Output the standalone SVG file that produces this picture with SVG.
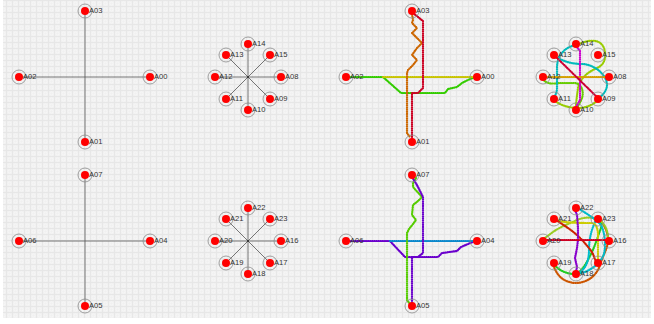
<svg xmlns="http://www.w3.org/2000/svg" width="654" height="324" viewBox="0 0 654 324">
<style>
.ring{fill:none;stroke:#8a8a8a;stroke-width:0.8}
.dot{fill:#ff0000}
.lbl{font-family:"Liberation Sans",Arial,sans-serif;font-size:7.6px;fill:#333}
.ln{stroke:#555;stroke-width:0.8;fill:none}
.rt{fill:none;stroke-width:2.2;stroke-dasharray:0.5 1.6;stroke-linecap:round;stroke-linejoin:round}
</style>
<defs>
<pattern id="bg" width="6" height="6" patternUnits="userSpaceOnUse">
<rect width="6" height="6" fill="#f0f0f0"/>
<path d="M0,0.5H6M0.5,0V6" stroke="#e7e7e7" stroke-width="1"/>
<circle cx="3.5" cy="3.5" r="1.6" fill="none" stroke="#f9f9f9" stroke-width="0.8"/>
</pattern>
</defs>
<rect width="654" height="324" fill="#ffffff"/>
<rect x="3" y="0" width="648" height="318" fill="url(#bg)"/>

<g id="connectors">
<path class="ln" d="M85,11V142M19,77H150"/>
<path class="ln" d="M85,175V306M19,241H150"/>
<path class="ln" d="M248,44V110M215,77H281M226,55L270,99M270,55L226,99"/>
<circle cx="248" cy="77" r="1.1" fill="#333"/>
<path class="ln" d="M248,208V274M215,241H281M226,219L270,263M270,219L226,263"/>
<circle cx="248" cy="241" r="1.1" fill="#333"/>

<path class="rt" stroke="#33cc00" d="M349,77L383,77L401,93L445,93L448,89L457,87L462,83L468,80L475,77"/>
<path class="rt" stroke="#c8c400" d="M383,77L475,77"/>
<path class="rt" stroke="#cc6600" d="M412,14L413,20L412,23L417,28L412,33L422,43L417,48L412,55L417,60L413,65L408,70L407,73L407,133L410,137"/>
<path class="rt" stroke="#cc0022" d="M413,13L423,21L423,88L418,93L412,93L412,139"/>

<path class="rt" stroke="#6a00cc" d="M349,241L390,241L405,257L438,257L442,253L457,251L461,247L468,244L475,241"/>
<path class="rt" stroke="#0a88cc" d="M390,241L474,241"/>
<path class="rt" stroke="#55cc00" d="M416,178L413,183L413,187L422,197L418,201L413,205L412,215L416,220L413,224L409,229L407,233L407,300L410,304"/>
<path class="rt" stroke="#6a00cc" d="M412,177L417,185L423,197L423,253L418,257L412,257L412,303"/>

<path class="rt" stroke="#99cc00" d="M553,99C560,106 570,108 580,108C590,107 595,103 599,99"/>
<path class="rt" stroke="#99cc00" d="M579,44C588,40 600,38 604,48C607,58 604,65 597,68C588,72 580,78 578,88C577,96 576,102 576,107"/>
<path class="rt" stroke="#66cc00" d="M543,79C546,84 552,84 560,83L575,83C582,84 584,92 582,98C580,103 578,106 577,108"/>
<path class="rt" stroke="#00bbbb" d="M576,45C565,47 557,55 557,68L557,88C557,93 555,96 553,98"/>
<path class="rt" stroke="#00bbbb" d="M556,57C565,62 572,64 583,64C595,65 607,75 607,85C607,90 603,95 599,98"/>
<path class="rt" stroke="#cc00cc" d="M576,46L580,51L580,100L576,107"/>
<path class="rt" stroke="#d4a000" d="M546,77L606,77"/>
<path class="rt" stroke="#cc0033" d="M555,56L598,98"/>

<path class="rt" stroke="#cc5500" d="M553,264C556,274 562,282 575,283C588,283 597,275 600,265C603,255 608,248 608,240C608,232 604,224 599,219"/>
<path class="rt" stroke="#22cc22" d="M554,264C558,270 566,274 575,274C582,272 587,262 591,254C595,246 598,236 601,228C602,224 601,221 599,219"/>
<path class="rt" stroke="#99cc22" d="M545,238L553,232C560,227 568,224 575,221C582,217 594,216 601,221C606,226 608,232 608,238"/>
<path class="rt" stroke="#00bbcc" d="M578,208C585,213 595,218 601,225C605,233 606,245 604,254C601,262 594,268 585,272L577,274"/>
<path class="rt" stroke="#00bbcc" d="M596,220C592,228 589,238 589,250C589,262 585,270 578,273"/>
<path class="rt" stroke="#cccc00" d="M556,220C565,223 580,223 592,223C597,224 598,230 598,236L598,262"/>
<path class="rt" stroke="#cc2200" d="M556,220C565,226 575,232 583,241C588,247 593,252 594,257C595,260 597,262 598,263"/>
<path class="rt" stroke="#8800cc" d="M575,210L577,215L578,228L578,240L577,248L575,258L577,267L576,272"/>
<path class="rt" stroke="#cc0022" d="M545,240L607,240"/>
</g>

<g id="p1-A00"><circle class="ring" cx="150" cy="77" r="7"/><circle class="dot" cx="150" cy="77" r="4"/><text class="lbl" x="154" y="78.5">A00</text></g>
<g id="p1-A01"><circle class="ring" cx="85" cy="142" r="7"/><circle class="dot" cx="85" cy="142" r="4"/><text class="lbl" x="89" y="143.5">A01</text></g>
<g id="p1-A02"><circle class="ring" cx="19" cy="77" r="7"/><circle class="dot" cx="19" cy="77" r="4"/><text class="lbl" x="23" y="78.5">A02</text></g>
<g id="p1-A03"><circle class="ring" cx="85" cy="11" r="7"/><circle class="dot" cx="85" cy="11" r="4"/><text class="lbl" x="89" y="12.5">A03</text></g>

<g id="p2-A08"><circle class="ring" cx="281" cy="77" r="7"/><circle class="dot" cx="281" cy="77" r="4"/><text class="lbl" x="285" y="78.5">A08</text></g>
<g id="p2-A09"><circle class="ring" cx="270" cy="99" r="7"/><circle class="dot" cx="270" cy="99" r="4"/><text class="lbl" x="274" y="100.5">A09</text></g>
<g id="p2-A10"><circle class="ring" cx="248" cy="110" r="7"/><circle class="dot" cx="248" cy="110" r="4"/><text class="lbl" x="252" y="111.5">A10</text></g>
<g id="p2-A11"><circle class="ring" cx="226" cy="99" r="7"/><circle class="dot" cx="226" cy="99" r="4"/><text class="lbl" x="230" y="100.5">A11</text></g>
<g id="p2-A12"><circle class="ring" cx="215" cy="77" r="7"/><circle class="dot" cx="215" cy="77" r="4"/><text class="lbl" x="219" y="78.5">A12</text></g>
<g id="p2-A13"><circle class="ring" cx="226" cy="55" r="7"/><circle class="dot" cx="226" cy="55" r="4"/><text class="lbl" x="230" y="56.5">A13</text></g>
<g id="p2-A14"><circle class="ring" cx="248" cy="44" r="7"/><circle class="dot" cx="248" cy="44" r="4"/><text class="lbl" x="252" y="45.5">A14</text></g>
<g id="p2-A15"><circle class="ring" cx="270" cy="55" r="7"/><circle class="dot" cx="270" cy="55" r="4"/><text class="lbl" x="274" y="56.5">A15</text></g>

<g id="p3-A00"><circle class="ring" cx="477" cy="77" r="7"/><circle class="dot" cx="477" cy="77" r="4"/><text class="lbl" x="481" y="78.5">A00</text></g>
<g id="p3-A01"><circle class="ring" cx="412" cy="142" r="7"/><circle class="dot" cx="412" cy="142" r="4"/><text class="lbl" x="416" y="143.5">A01</text></g>
<g id="p3-A02"><circle class="ring" cx="346" cy="77" r="7"/><circle class="dot" cx="346" cy="77" r="4"/><text class="lbl" x="350" y="78.5">A02</text></g>
<g id="p3-A03"><circle class="ring" cx="412" cy="11" r="7"/><circle class="dot" cx="412" cy="11" r="4"/><text class="lbl" x="416" y="12.5">A03</text></g>

<g id="p4-A08"><circle class="ring" cx="609" cy="77" r="7"/><circle class="dot" cx="609" cy="77" r="4"/><text class="lbl" x="613" y="78.5">A08</text></g>
<g id="p4-A09"><circle class="ring" cx="598" cy="99" r="7"/><circle class="dot" cx="598" cy="99" r="4"/><text class="lbl" x="602" y="100.5">A09</text></g>
<g id="p4-A10"><circle class="ring" cx="576" cy="110" r="7"/><circle class="dot" cx="576" cy="110" r="4"/><text class="lbl" x="580" y="111.5">A10</text></g>
<g id="p4-A11"><circle class="ring" cx="554" cy="99" r="7"/><circle class="dot" cx="554" cy="99" r="4"/><text class="lbl" x="558" y="100.5">A11</text></g>
<g id="p4-A12"><circle class="ring" cx="543" cy="77" r="7"/><circle class="dot" cx="543" cy="77" r="4"/><text class="lbl" x="547" y="78.5">A12</text></g>
<g id="p4-A13"><circle class="ring" cx="554" cy="55" r="7"/><circle class="dot" cx="554" cy="55" r="4"/><text class="lbl" x="558" y="56.5">A13</text></g>
<g id="p4-A14"><circle class="ring" cx="576" cy="44" r="7"/><circle class="dot" cx="576" cy="44" r="4"/><text class="lbl" x="580" y="45.5">A14</text></g>
<g id="p4-A15"><circle class="ring" cx="598" cy="55" r="7"/><circle class="dot" cx="598" cy="55" r="4"/><text class="lbl" x="602" y="56.5">A15</text></g>

<g id="p5-A04"><circle class="ring" cx="150" cy="241" r="7"/><circle class="dot" cx="150" cy="241" r="4"/><text class="lbl" x="154" y="242.5">A04</text></g>
<g id="p5-A05"><circle class="ring" cx="85" cy="306" r="7"/><circle class="dot" cx="85" cy="306" r="4"/><text class="lbl" x="89" y="307.5">A05</text></g>
<g id="p5-A06"><circle class="ring" cx="19" cy="241" r="7"/><circle class="dot" cx="19" cy="241" r="4"/><text class="lbl" x="23" y="242.5">A06</text></g>
<g id="p5-A07"><circle class="ring" cx="85" cy="175" r="7"/><circle class="dot" cx="85" cy="175" r="4"/><text class="lbl" x="89" y="176.5">A07</text></g>

<g id="p6-A16"><circle class="ring" cx="281" cy="241" r="7"/><circle class="dot" cx="281" cy="241" r="4"/><text class="lbl" x="285" y="242.5">A16</text></g>
<g id="p6-A17"><circle class="ring" cx="270" cy="263" r="7"/><circle class="dot" cx="270" cy="263" r="4"/><text class="lbl" x="274" y="264.5">A17</text></g>
<g id="p6-A18"><circle class="ring" cx="248" cy="274" r="7"/><circle class="dot" cx="248" cy="274" r="4"/><text class="lbl" x="252" y="275.5">A18</text></g>
<g id="p6-A19"><circle class="ring" cx="226" cy="263" r="7"/><circle class="dot" cx="226" cy="263" r="4"/><text class="lbl" x="230" y="264.5">A19</text></g>
<g id="p6-A20"><circle class="ring" cx="215" cy="241" r="7"/><circle class="dot" cx="215" cy="241" r="4"/><text class="lbl" x="219" y="242.5">A20</text></g>
<g id="p6-A21"><circle class="ring" cx="226" cy="219" r="7"/><circle class="dot" cx="226" cy="219" r="4"/><text class="lbl" x="230" y="220.5">A21</text></g>
<g id="p6-A22"><circle class="ring" cx="248" cy="208" r="7"/><circle class="dot" cx="248" cy="208" r="4"/><text class="lbl" x="252" y="209.5">A22</text></g>
<g id="p6-A23"><circle class="ring" cx="270" cy="219" r="7"/><circle class="dot" cx="270" cy="219" r="4"/><text class="lbl" x="274" y="220.5">A23</text></g>

<g id="p7-A04"><circle class="ring" cx="477" cy="241" r="7"/><circle class="dot" cx="477" cy="241" r="4"/><text class="lbl" x="481" y="242.5">A04</text></g>
<g id="p7-A05"><circle class="ring" cx="412" cy="306" r="7"/><circle class="dot" cx="412" cy="306" r="4"/><text class="lbl" x="416" y="307.5">A05</text></g>
<g id="p7-A06"><circle class="ring" cx="346" cy="241" r="7"/><circle class="dot" cx="346" cy="241" r="4"/><text class="lbl" x="350" y="242.5">A06</text></g>
<g id="p7-A07"><circle class="ring" cx="412" cy="175" r="7"/><circle class="dot" cx="412" cy="175" r="4"/><text class="lbl" x="416" y="176.5">A07</text></g>

<g id="p8-A16"><circle class="ring" cx="609" cy="241" r="7"/><circle class="dot" cx="609" cy="241" r="4"/><text class="lbl" x="613" y="242.5">A16</text></g>
<g id="p8-A17"><circle class="ring" cx="598" cy="263" r="7"/><circle class="dot" cx="598" cy="263" r="4"/><text class="lbl" x="602" y="264.5">A17</text></g>
<g id="p8-A18"><circle class="ring" cx="576" cy="274" r="7"/><circle class="dot" cx="576" cy="274" r="4"/><text class="lbl" x="580" y="275.5">A18</text></g>
<g id="p8-A19"><circle class="ring" cx="554" cy="263" r="7"/><circle class="dot" cx="554" cy="263" r="4"/><text class="lbl" x="558" y="264.5">A19</text></g>
<g id="p8-A20"><circle class="ring" cx="543" cy="241" r="7"/><circle class="dot" cx="543" cy="241" r="4"/><text class="lbl" x="547" y="242.5">A20</text></g>
<g id="p8-A21"><circle class="ring" cx="554" cy="219" r="7"/><circle class="dot" cx="554" cy="219" r="4"/><text class="lbl" x="558" y="220.5">A21</text></g>
<g id="p8-A22"><circle class="ring" cx="576" cy="208" r="7"/><circle class="dot" cx="576" cy="208" r="4"/><text class="lbl" x="580" y="209.5">A22</text></g>
<g id="p8-A23"><circle class="ring" cx="598" cy="219" r="7"/><circle class="dot" cx="598" cy="219" r="4"/><text class="lbl" x="602" y="220.5">A23</text></g>
</svg>
